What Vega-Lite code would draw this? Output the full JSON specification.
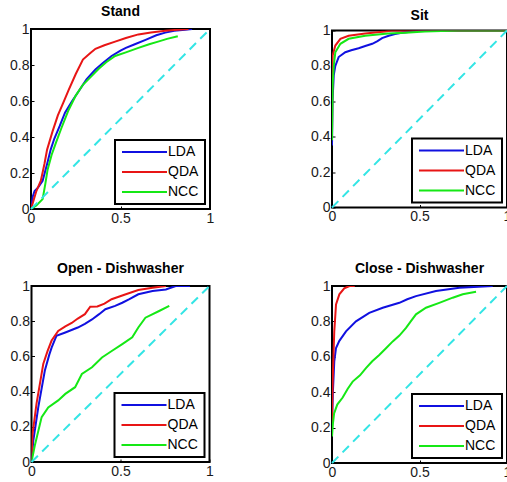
{
  "$schema": "https://vega.github.io/schema/vega-lite/v6.json",
  "background": "white",
  "padding": {"left": 8, "top": 4, "right": 0, "bottom": 0},
  "datasets": {
    "roc": [
      {"panel":"Stand","model":"LDA","fpr":0,"tpr":0},{"panel":"Stand","model":"LDA","fpr":0.01,"tpr":0.07},{"panel":"Stand","model":"LDA","fpr":0.02,"tpr":0.1},{"panel":"Stand","model":"LDA","fpr":0.04,"tpr":0.12},{"panel":"Stand","model":"LDA","fpr":0.065,"tpr":0.157},{"panel":"Stand","model":"LDA","fpr":0.09,"tpr":0.25},{"panel":"Stand","model":"LDA","fpr":0.11,"tpr":0.33},{"panel":"Stand","model":"LDA","fpr":0.13,"tpr":0.39},{"panel":"Stand","model":"LDA","fpr":0.16,"tpr":0.46},{"panel":"Stand","model":"LDA","fpr":0.19,"tpr":0.535},{"panel":"Stand","model":"LDA","fpr":0.23,"tpr":0.6},{"panel":"Stand","model":"LDA","fpr":0.27,"tpr":0.66},{"panel":"Stand","model":"LDA","fpr":0.31,"tpr":0.72},{"panel":"Stand","model":"LDA","fpr":0.36,"tpr":0.775},{"panel":"Stand","model":"LDA","fpr":0.4,"tpr":0.81},{"panel":"Stand","model":"LDA","fpr":0.45,"tpr":0.85},{"panel":"Stand","model":"LDA","fpr":0.5,"tpr":0.88},{"panel":"Stand","model":"LDA","fpr":0.53,"tpr":0.895},{"panel":"Stand","model":"LDA","fpr":0.58,"tpr":0.915},{"panel":"Stand","model":"LDA","fpr":0.64,"tpr":0.94},{"panel":"Stand","model":"LDA","fpr":0.7,"tpr":0.965},{"panel":"Stand","model":"LDA","fpr":0.75,"tpr":0.98},{"panel":"Stand","model":"LDA","fpr":0.8,"tpr":0.99},{"panel":"Stand","model":"LDA","fpr":0.86,"tpr":0.996},{"panel":"Stand","model":"LDA","fpr":0.9,"tpr":1.0},
      {"panel":"Stand","model":"QDA","fpr":0,"tpr":0},{"panel":"Stand","model":"QDA","fpr":0.015,"tpr":0.05},{"panel":"Stand","model":"QDA","fpr":0.03,"tpr":0.1},{"panel":"Stand","model":"QDA","fpr":0.055,"tpr":0.157},{"panel":"Stand","model":"QDA","fpr":0.075,"tpr":0.25},{"panel":"Stand","model":"QDA","fpr":0.09,"tpr":0.33},{"panel":"Stand","model":"QDA","fpr":0.12,"tpr":0.43},{"panel":"Stand","model":"QDA","fpr":0.15,"tpr":0.52},{"panel":"Stand","model":"QDA","fpr":0.18,"tpr":0.59},{"panel":"Stand","model":"QDA","fpr":0.21,"tpr":0.66},{"panel":"Stand","model":"QDA","fpr":0.25,"tpr":0.75},{"panel":"Stand","model":"QDA","fpr":0.29,"tpr":0.83},{"panel":"Stand","model":"QDA","fpr":0.33,"tpr":0.865},{"panel":"Stand","model":"QDA","fpr":0.36,"tpr":0.89},{"panel":"Stand","model":"QDA","fpr":0.41,"tpr":0.91},{"panel":"Stand","model":"QDA","fpr":0.47,"tpr":0.93},{"panel":"Stand","model":"QDA","fpr":0.53,"tpr":0.95},{"panel":"Stand","model":"QDA","fpr":0.6,"tpr":0.97},{"panel":"Stand","model":"QDA","fpr":0.67,"tpr":0.98},{"panel":"Stand","model":"QDA","fpr":0.75,"tpr":0.99},{"panel":"Stand","model":"QDA","fpr":0.82,"tpr":0.996},{"panel":"Stand","model":"QDA","fpr":0.88,"tpr":1.0},
      {"panel":"Stand","model":"NCC","fpr":0,"tpr":0},{"panel":"Stand","model":"NCC","fpr":0.03,"tpr":0.02},{"panel":"Stand","model":"NCC","fpr":0.065,"tpr":0.055},{"panel":"Stand","model":"NCC","fpr":0.08,"tpr":0.14},{"panel":"Stand","model":"NCC","fpr":0.093,"tpr":0.22},{"panel":"Stand","model":"NCC","fpr":0.115,"tpr":0.3},{"panel":"Stand","model":"NCC","fpr":0.14,"tpr":0.37},{"panel":"Stand","model":"NCC","fpr":0.17,"tpr":0.45},{"panel":"Stand","model":"NCC","fpr":0.21,"tpr":0.55},{"panel":"Stand","model":"NCC","fpr":0.25,"tpr":0.63},{"panel":"Stand","model":"NCC","fpr":0.29,"tpr":0.69},{"panel":"Stand","model":"NCC","fpr":0.33,"tpr":0.73},{"panel":"Stand","model":"NCC","fpr":0.38,"tpr":0.78},{"panel":"Stand","model":"NCC","fpr":0.42,"tpr":0.815},{"panel":"Stand","model":"NCC","fpr":0.47,"tpr":0.85},{"panel":"Stand","model":"NCC","fpr":0.53,"tpr":0.87},{"panel":"Stand","model":"NCC","fpr":0.6,"tpr":0.895},{"panel":"Stand","model":"NCC","fpr":0.66,"tpr":0.915},{"panel":"Stand","model":"NCC","fpr":0.71,"tpr":0.93},{"panel":"Stand","model":"NCC","fpr":0.76,"tpr":0.945},{"panel":"Stand","model":"NCC","fpr":0.82,"tpr":0.96},

      {"panel":"Sit","model":"LDA","fpr":0,"tpr":0.35},{"panel":"Sit","model":"LDA","fpr":0.003,"tpr":0.6},{"panel":"Sit","model":"LDA","fpr":0.01,"tpr":0.746},{"panel":"Sit","model":"LDA","fpr":0.019,"tpr":0.8},{"panel":"Sit","model":"LDA","fpr":0.038,"tpr":0.85},{"panel":"Sit","model":"LDA","fpr":0.076,"tpr":0.877},{"panel":"Sit","model":"LDA","fpr":0.11,"tpr":0.888},{"panel":"Sit","model":"LDA","fpr":0.152,"tpr":0.9},{"panel":"Sit","model":"LDA","fpr":0.19,"tpr":0.912},{"panel":"Sit","model":"LDA","fpr":0.23,"tpr":0.925},{"panel":"Sit","model":"LDA","fpr":0.26,"tpr":0.94},{"panel":"Sit","model":"LDA","fpr":0.286,"tpr":0.957},{"panel":"Sit","model":"LDA","fpr":0.324,"tpr":0.97},{"panel":"Sit","model":"LDA","fpr":0.36,"tpr":0.98},{"panel":"Sit","model":"LDA","fpr":0.4,"tpr":0.987},{"panel":"Sit","model":"LDA","fpr":0.46,"tpr":0.994},{"panel":"Sit","model":"LDA","fpr":0.53,"tpr":1.0},{"panel":"Sit","model":"LDA","fpr":1,"tpr":1.0},
      {"panel":"Sit","model":"QDA","fpr":0,"tpr":0.4},{"panel":"Sit","model":"QDA","fpr":0.002,"tpr":0.75},{"panel":"Sit","model":"QDA","fpr":0.004,"tpr":0.86},{"panel":"Sit","model":"QDA","fpr":0.019,"tpr":0.915},{"panel":"Sit","model":"QDA","fpr":0.048,"tpr":0.953},{"panel":"Sit","model":"QDA","fpr":0.095,"tpr":0.97},{"panel":"Sit","model":"QDA","fpr":0.19,"tpr":0.983},{"panel":"Sit","model":"QDA","fpr":0.305,"tpr":0.994},{"panel":"Sit","model":"QDA","fpr":0.34,"tpr":1.0},{"panel":"Sit","model":"QDA","fpr":1,"tpr":1.0},
      {"panel":"Sit","model":"NCC","fpr":0,"tpr":0.38},{"panel":"Sit","model":"NCC","fpr":0.004,"tpr":0.7},{"panel":"Sit","model":"NCC","fpr":0.01,"tpr":0.8},{"panel":"Sit","model":"NCC","fpr":0.019,"tpr":0.877},{"panel":"Sit","model":"NCC","fpr":0.048,"tpr":0.925},{"panel":"Sit","model":"NCC","fpr":0.095,"tpr":0.953},{"panel":"Sit","model":"NCC","fpr":0.19,"tpr":0.97},{"panel":"Sit","model":"NCC","fpr":0.32,"tpr":0.983},{"panel":"Sit","model":"NCC","fpr":0.42,"tpr":0.987},{"panel":"Sit","model":"NCC","fpr":0.53,"tpr":0.995},{"panel":"Sit","model":"NCC","fpr":0.72,"tpr":1.0},{"panel":"Sit","model":"NCC","fpr":1,"tpr":1.0},

      {"panel":"Open","model":"LDA","fpr":0,"tpr":0},{"panel":"Open","model":"LDA","fpr":0.01,"tpr":0.12},{"panel":"Open","model":"LDA","fpr":0.038,"tpr":0.31},{"panel":"Open","model":"LDA","fpr":0.075,"tpr":0.52},{"panel":"Open","model":"LDA","fpr":0.1,"tpr":0.61},{"panel":"Open","model":"LDA","fpr":0.113,"tpr":0.65},{"panel":"Open","model":"LDA","fpr":0.14,"tpr":0.717},{"panel":"Open","model":"LDA","fpr":0.19,"tpr":0.736},{"panel":"Open","model":"LDA","fpr":0.26,"tpr":0.764},{"panel":"Open","model":"LDA","fpr":0.3,"tpr":0.785},{"panel":"Open","model":"LDA","fpr":0.34,"tpr":0.81},{"panel":"Open","model":"LDA","fpr":0.38,"tpr":0.84},{"panel":"Open","model":"LDA","fpr":0.415,"tpr":0.868},{"panel":"Open","model":"LDA","fpr":0.47,"tpr":0.887},{"panel":"Open","model":"LDA","fpr":0.51,"tpr":0.905},{"panel":"Open","model":"LDA","fpr":0.55,"tpr":0.925},{"panel":"Open","model":"LDA","fpr":0.6,"tpr":0.953},{"panel":"Open","model":"LDA","fpr":0.68,"tpr":0.972},{"panel":"Open","model":"LDA","fpr":0.755,"tpr":0.98},{"panel":"Open","model":"LDA","fpr":0.81,"tpr":1.0},{"panel":"Open","model":"LDA","fpr":0.89,"tpr":1.0},
      {"panel":"Open","model":"QDA","fpr":0,"tpr":0},{"panel":"Open","model":"QDA","fpr":0.006,"tpr":0.16},{"panel":"Open","model":"QDA","fpr":0.028,"tpr":0.33},{"panel":"Open","model":"QDA","fpr":0.066,"tpr":0.557},{"panel":"Open","model":"QDA","fpr":0.09,"tpr":0.63},{"panel":"Open","model":"QDA","fpr":0.113,"tpr":0.69},{"panel":"Open","model":"QDA","fpr":0.15,"tpr":0.745},{"panel":"Open","model":"QDA","fpr":0.19,"tpr":0.77},{"panel":"Open","model":"QDA","fpr":0.226,"tpr":0.79},{"panel":"Open","model":"QDA","fpr":0.26,"tpr":0.815},{"panel":"Open","model":"QDA","fpr":0.3,"tpr":0.84},{"panel":"Open","model":"QDA","fpr":0.33,"tpr":0.882},{"panel":"Open","model":"QDA","fpr":0.37,"tpr":0.884},{"panel":"Open","model":"QDA","fpr":0.41,"tpr":0.9},{"panel":"Open","model":"QDA","fpr":0.45,"tpr":0.925},{"panel":"Open","model":"QDA","fpr":0.53,"tpr":0.953},{"panel":"Open","model":"QDA","fpr":0.6,"tpr":0.977},{"panel":"Open","model":"QDA","fpr":0.68,"tpr":0.99},{"panel":"Open","model":"QDA","fpr":0.755,"tpr":1.0},
      {"panel":"Open","model":"NCC","fpr":0,"tpr":0},{"panel":"Open","model":"NCC","fpr":0.02,"tpr":0.1},{"panel":"Open","model":"NCC","fpr":0.057,"tpr":0.255},{"panel":"Open","model":"NCC","fpr":0.094,"tpr":0.31},{"panel":"Open","model":"NCC","fpr":0.15,"tpr":0.35},{"panel":"Open","model":"NCC","fpr":0.19,"tpr":0.387},{"panel":"Open","model":"NCC","fpr":0.245,"tpr":0.425},{"panel":"Open","model":"NCC","fpr":0.283,"tpr":0.5},{"panel":"Open","model":"NCC","fpr":0.34,"tpr":0.538},{"panel":"Open","model":"NCC","fpr":0.396,"tpr":0.594},{"panel":"Open","model":"NCC","fpr":0.453,"tpr":0.632},{"panel":"Open","model":"NCC","fpr":0.51,"tpr":0.67},{"panel":"Open","model":"NCC","fpr":0.566,"tpr":0.708},{"panel":"Open","model":"NCC","fpr":0.6,"tpr":0.764},{"panel":"Open","model":"NCC","fpr":0.64,"tpr":0.82},{"panel":"Open","model":"NCC","fpr":0.717,"tpr":0.858},{"panel":"Open","model":"NCC","fpr":0.774,"tpr":0.887},

      {"panel":"Close","model":"LDA","fpr":0,"tpr":0.22},{"panel":"Close","model":"LDA","fpr":0.005,"tpr":0.4},{"panel":"Close","model":"LDA","fpr":0.013,"tpr":0.574},{"panel":"Close","model":"LDA","fpr":0.023,"tpr":0.65},{"panel":"Close","model":"LDA","fpr":0.042,"tpr":0.69},{"panel":"Close","model":"LDA","fpr":0.08,"tpr":0.744},{"panel":"Close","model":"LDA","fpr":0.137,"tpr":0.8},{"panel":"Close","model":"LDA","fpr":0.213,"tpr":0.848},{"panel":"Close","model":"LDA","fpr":0.29,"tpr":0.877},{"panel":"Close","model":"LDA","fpr":0.385,"tpr":0.905},{"panel":"Close","model":"LDA","fpr":0.43,"tpr":0.925},{"panel":"Close","model":"LDA","fpr":0.48,"tpr":0.943},{"panel":"Close","model":"LDA","fpr":0.594,"tpr":0.972},{"panel":"Close","model":"LDA","fpr":0.728,"tpr":0.99},{"panel":"Close","model":"LDA","fpr":0.918,"tpr":1.0},
      {"panel":"Close","model":"QDA","fpr":0,"tpr":0.2},{"panel":"Close","model":"QDA","fpr":0.002,"tpr":0.35},{"panel":"Close","model":"QDA","fpr":0.004,"tpr":0.46},{"panel":"Close","model":"QDA","fpr":0.008,"tpr":0.6},{"panel":"Close","model":"QDA","fpr":0.013,"tpr":0.744},{"panel":"Close","model":"QDA","fpr":0.023,"tpr":0.896},{"panel":"Close","model":"QDA","fpr":0.042,"tpr":0.953},{"panel":"Close","model":"QDA","fpr":0.07,"tpr":0.987},{"panel":"Close","model":"QDA","fpr":0.1,"tpr":1.0},{"panel":"Close","model":"QDA","fpr":0.13,"tpr":1.0},
      {"panel":"Close","model":"NCC","fpr":0,"tpr":0.15},{"panel":"Close","model":"NCC","fpr":0.005,"tpr":0.22},{"panel":"Close","model":"NCC","fpr":0.012,"tpr":0.28},{"panel":"Close","model":"NCC","fpr":0.03,"tpr":0.33},{"panel":"Close","model":"NCC","fpr":0.061,"tpr":0.37},{"panel":"Close","model":"NCC","fpr":0.09,"tpr":0.42},{"panel":"Close","model":"NCC","fpr":0.118,"tpr":0.46},{"panel":"Close","model":"NCC","fpr":0.16,"tpr":0.495},{"panel":"Close","model":"NCC","fpr":0.194,"tpr":0.536},{"panel":"Close","model":"NCC","fpr":0.23,"tpr":0.575},{"panel":"Close","model":"NCC","fpr":0.27,"tpr":0.61},{"panel":"Close","model":"NCC","fpr":0.31,"tpr":0.65},{"panel":"Close","model":"NCC","fpr":0.347,"tpr":0.687},{"panel":"Close","model":"NCC","fpr":0.385,"tpr":0.72},{"panel":"Close","model":"NCC","fpr":0.423,"tpr":0.763},{"panel":"Close","model":"NCC","fpr":0.45,"tpr":0.8},{"panel":"Close","model":"NCC","fpr":0.48,"tpr":0.84},{"panel":"Close","model":"NCC","fpr":0.537,"tpr":0.877},{"panel":"Close","model":"NCC","fpr":0.613,"tpr":0.905},{"panel":"Close","model":"NCC","fpr":0.69,"tpr":0.934},{"panel":"Close","model":"NCC","fpr":0.747,"tpr":0.953},{"panel":"Close","model":"NCC","fpr":0.823,"tpr":0.968}
    ],
    "diag": [{"fpr":0,"tpr":0},{"fpr":1,"tpr":1}]
  },
  "concat": [
    {
      "title": {"text": "Stand"},
      "width": 179, "height": 180,
      "layer": [
        {"data": {"name": "roc"}, "transform": [{"filter": "datum.panel === 'Stand'"}],
         "mark": {"type": "line", "strokeWidth": 2, "clip": true},
         "encoding": {
           "x": {"field": "fpr", "type": "quantitative", "scale": {"domain": [0, 1], "nice": false}, "axis": {"values": [0, 0.5, 1], "format": "~g", "title": null, "labelFlush": false, "labelOverlap": false, "tickCount": 10}},
           "y": {"field": "tpr", "type": "quantitative", "scale": {"domain": [0, 1], "nice": false}, "axis": {"values": [0, 0.2, 0.4, 0.6, 0.8, 1], "format": "~g", "title": null, "labelOverlap": false, "tickCount": 10}},
           "color": {"field": "model", "type": "nominal", "scale": {"domain": ["LDA", "QDA", "NCC"], "range": ["#1010e0", "#e81515", "#15e815"]}, "legend": {"title": null, "encode": {"legend": {"update": {"strokeWidth": {"value": 2}}}}}},
           "order": [{"field": "fpr", "type": "quantitative"}, {"field": "tpr", "type": "quantitative"}]
         }},
        {"data": {"name": "diag"}, "mark": {"type": "line", "color": "#33e5e5", "strokeDash": [9, 6], "strokeWidth": 2},
         "encoding": {"x": {"field": "fpr", "type": "quantitative"}, "y": {"field": "tpr", "type": "quantitative"}}}
      ]
    },
    {
      "title": {"text": "Sit", "offset": 1},
      "width": 175, "height": 177,
      "layer": [
        {"data": {"name": "roc"}, "transform": [{"filter": "datum.panel === 'Sit'"}],
         "mark": {"type": "line", "strokeWidth": 2, "clip": true},
         "encoding": {
           "x": {"field": "fpr", "type": "quantitative", "scale": {"domain": [0, 1], "nice": false}, "axis": {"values": [0, 0.5, 1], "format": "~g", "title": null, "labelFlush": false, "labelOverlap": false, "tickCount": 10}},
           "y": {"field": "tpr", "type": "quantitative", "scale": {"domain": [0, 1], "nice": false}, "axis": {"values": [0, 0.2, 0.4, 0.6, 0.8, 1], "format": "~g", "title": null, "labelOverlap": false, "tickCount": 10}},
           "color": {"field": "model", "type": "nominal", "scale": {"domain": ["LDA", "QDA", "NCC"], "range": ["#1010e0", "#e81515", "#15e815"]}, "legend": {"title": null, "encode": {"legend": {"update": {"strokeWidth": {"value": 2}}}}}},
           "order": [{"field": "fpr", "type": "quantitative"}, {"field": "tpr", "type": "quantitative"}]
         }},
        {"data": {"name": "diag"}, "mark": {"type": "line", "color": "#33e5e5", "strokeDash": [9, 6], "strokeWidth": 2},
         "encoding": {"x": {"field": "fpr", "type": "quantitative"}, "y": {"field": "tpr", "type": "quantitative"}}}
      ]
    },
    {
      "title": {"text": "Open - Dishwasher"},
      "width": 178, "height": 176,
      "layer": [
        {"data": {"name": "roc"}, "transform": [{"filter": "datum.panel === 'Open'"}],
         "mark": {"type": "line", "strokeWidth": 2, "clip": true},
         "encoding": {
           "x": {"field": "fpr", "type": "quantitative", "scale": {"domain": [0, 1], "nice": false}, "axis": {"values": [0, 0.5, 1], "format": "~g", "title": null, "labelFlush": false, "labelOverlap": false, "tickCount": 10}},
           "y": {"field": "tpr", "type": "quantitative", "scale": {"domain": [0, 1], "nice": false}, "axis": {"values": [0, 0.2, 0.4, 0.6, 0.8, 1], "format": "~g", "title": null, "labelOverlap": false, "tickCount": 10}},
           "color": {"field": "model", "type": "nominal", "scale": {"domain": ["LDA", "QDA", "NCC"], "range": ["#1010e0", "#e81515", "#15e815"]}, "legend": {"title": null, "encode": {"legend": {"update": {"strokeWidth": {"value": 2}}}}}},
           "order": [{"field": "fpr", "type": "quantitative"}, {"field": "tpr", "type": "quantitative"}]
         }},
        {"data": {"name": "diag"}, "mark": {"type": "line", "color": "#33e5e5", "strokeDash": [9, 6], "strokeWidth": 2},
         "encoding": {"x": {"field": "fpr", "type": "quantitative"}, "y": {"field": "tpr", "type": "quantitative"}}}
      ]
    },
    {
      "title": {"text": "Close - Dishwasher"},
      "width": 175, "height": 177,
      "layer": [
        {"data": {"name": "roc"}, "transform": [{"filter": "datum.panel === 'Close'"}],
         "mark": {"type": "line", "strokeWidth": 2, "clip": true},
         "encoding": {
           "x": {"field": "fpr", "type": "quantitative", "scale": {"domain": [0, 1], "nice": false}, "axis": {"values": [0, 0.5, 1], "format": "~g", "title": null, "labelFlush": false, "labelOverlap": false, "tickCount": 10}},
           "y": {"field": "tpr", "type": "quantitative", "scale": {"domain": [0, 1], "nice": false}, "axis": {"values": [0, 0.2, 0.4, 0.6, 0.8, 1], "format": "~g", "title": null, "labelOverlap": false, "tickCount": 10}},
           "color": {"field": "model", "type": "nominal", "scale": {"domain": ["LDA", "QDA", "NCC"], "range": ["#1010e0", "#e81515", "#15e815"]}, "legend": {"title": null, "encode": {"legend": {"update": {"strokeWidth": {"value": 2}}}}}},
           "order": [{"field": "fpr", "type": "quantitative"}, {"field": "tpr", "type": "quantitative"}]
         }},
        {"data": {"name": "diag"}, "mark": {"type": "line", "color": "#33e5e5", "strokeDash": [9, 6], "strokeWidth": 2},
         "encoding": {"x": {"field": "fpr", "type": "quantitative"}, "y": {"field": "tpr", "type": "quantitative"}}}
      ]
    }
  ],
  "columns": 2,
  "center": true,
  "spacing": {"row": 35, "column": 94},
  "resolve": {"scale": {"color": "independent"}, "legend": {"color": "independent"}},
  "config": {
    "font": "Liberation Sans",
    "view": {"stroke": "black", "strokeWidth": 2},
    "title": {"font": "Liberation Sans", "fontSize": 14, "fontWeight": "bold", "color": "black", "offset": 3, "anchor": "middle"},
    "axis": {"domain": false, "grid": false, "ticks": true, "tickSize": -3, "tickColor": "black", "labelFont": "Liberation Sans", "labelFontSize": 14, "labelColor": "#1a1a1a", "labelPadding": 5, "labelOverlap": false},
    "legend": {"orient": "bottom-right", "offset": 5, "symbolType": "M-2.2,0M-1,0H8M13.8,0", "symbolSize": 100, "symbolStrokeWidth": 2, "labelFont": "Liberation Sans", "labelFontSize": 14, "labelColor": "black", "strokeColor": "black", "fillColor": "white", "padding": 5, "rowPadding": 6, "labelOffset": 34}
  }
}
